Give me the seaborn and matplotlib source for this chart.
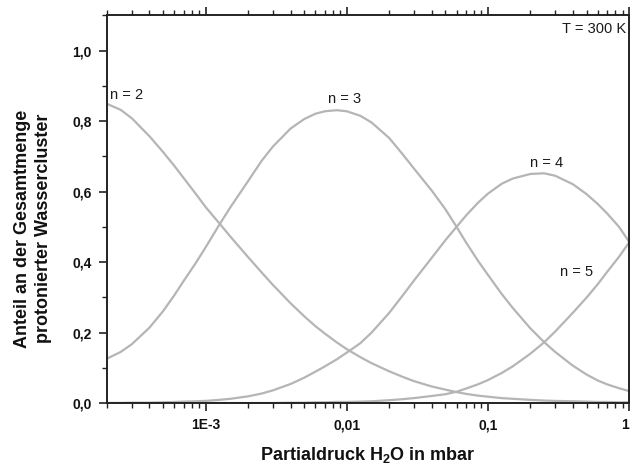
import pandas as pd
import matplotlib.pyplot as plt
import matplotlib.ticker as mticker
import seaborn as sns

# Werte (Druck in mbar, Anteil 0..1)
pressure = [2e-4, 2.5e-4, 3e-4, 4e-4, 5e-4, 6e-4, 7e-4, 8.5e-4,
            1e-3, 1.25e-3, 1.5e-3, 2e-3, 2.5e-3, 3e-3, 4e-3, 5e-3, 6e-3, 7e-3, 8.5e-3,
            1e-2, 1.25e-2, 1.5e-2, 2e-2, 2.5e-2, 3e-2, 4e-2, 5e-2, 6e-2, 7e-2, 8.5e-2,
            0.1, 0.125, 0.15, 0.2, 0.25, 0.3, 0.4, 0.5, 0.6, 0.7, 0.85, 1.0]
n2 = [0.849, 0.832, 0.808, 0.757, 0.712, 0.673, 0.638, 0.594,
      0.556, 0.510, 0.472, 0.414, 0.370, 0.335, 0.283, 0.246, 0.218, 0.197, 0.172,
      0.153, 0.130, 0.113, 0.090, 0.074, 0.062, 0.047, 0.038, 0.031, 0.026, 0.021,
      0.018, 0.014, 0.012, 0.009, 0.007, 0.006, 0.005, 0.004, 0.003, 0.003, 0.002, 0.002]
n3 = [0.126, 0.145, 0.167, 0.214, 0.261, 0.306, 0.347, 0.397,
      0.442, 0.506, 0.556, 0.630, 0.688, 0.728, 0.779, 0.806, 0.821, 0.828, 0.831,
      0.828, 0.815, 0.796, 0.752, 0.705, 0.665, 0.603, 0.550, 0.500, 0.456, 0.404,
      0.364, 0.310, 0.270, 0.212, 0.173, 0.145, 0.106, 0.081, 0.064, 0.053, 0.042, 0.034]
n4 = [0.000, 0.000, 0.001, 0.001, 0.002, 0.003, 0.004, 0.005,
      0.006, 0.009, 0.012, 0.019, 0.027, 0.036, 0.054, 0.072, 0.089, 0.104, 0.124,
      0.143, 0.170, 0.200, 0.256, 0.306, 0.348, 0.412, 0.462, 0.500, 0.532, 0.568,
      0.594, 0.622, 0.637, 0.650, 0.652, 0.645, 0.621, 0.593, 0.565, 0.538, 0.500, 0.458]
n5 = [0.000, 0.000, 0.000, 0.000, 0.000, 0.000, 0.000, 0.000,
      0.000, 0.000, 0.000, 0.000, 0.000, 0.000, 0.001, 0.001, 0.002, 0.002, 0.003,
      0.003, 0.004, 0.005, 0.008, 0.011, 0.014, 0.020, 0.025, 0.032, 0.041, 0.053,
      0.065, 0.085, 0.104, 0.140, 0.172, 0.203, 0.256, 0.299, 0.337, 0.372, 0.415, 0.455]

x_ticks = [1e-3, 1e-2, 1e-1, 1]
x_ticklabels = ["1E-3", "0,01", "0,1", "1"]
y_ticks = [0.0, 0.2, 0.4, 0.6, 0.8, 1.0]
y_ticklabels = ["0,0", "0,2", "0,4", "0,6", "0,8", "1,0"]

# Daten in Langformat für seaborn
frames = []
for name, vals in [("n = 2", n2), ("n = 3", n3), ("n = 4", n4), ("n = 5", n5)]:
    frames.append(pd.DataFrame({"p": pressure, "anteil": vals, "n": name}))
df = pd.concat(frames, ignore_index=True)

sns.set_theme(style="ticks")
plt.rcParams["font.family"] = ["Liberation Sans", "DejaVu Sans"]
plt.rcParams["mathtext.fontset"] = "custom"
plt.rcParams["mathtext.rm"] = "Liberation Sans"
plt.rcParams["mathtext.bf"] = "Liberation Sans:bold"

fig = plt.figure(figsize=(6.31, 4.67), dpi=100)
ax = fig.add_axes([0.1696, 0.137, 0.8272, 0.830])

grey = "#b5b5b5"
sns.lineplot(data=df, x="p", y="anteil", hue="n", palette=[grey] * 4,
             linewidth=1.6, legend=False, ax=ax, sort=False)

ax.set_xscale("log")
ax.set_xlim(2e-4, 1.0)
ax.set_ylim(0, 1.1)

ax.set_xticks(x_ticks, x_ticklabels)
ax.xaxis.set_minor_locator(mticker.LogLocator(base=10, subs=range(2, 10)))
ax.xaxis.set_minor_formatter(mticker.NullFormatter())
ax.set_yticks(y_ticks, y_ticklabels)
ax.yaxis.set_minor_locator(mticker.MultipleLocator(0.1))

for lab in ax.get_xticklabels() + ax.get_yticklabels():
    lab.set_fontweight("bold")
    lab.set_fontsize(10)
    lab.set_color("#111111")
ax.get_xticklabels()[-1].set_ha("right")

ax.tick_params(axis="both", which="major", length=6, width=1.2, color="#222222",
               direction="out", pad=5)
ax.tick_params(axis="both", which="minor", length=3.5, width=1.0, color="#222222",
               direction="out")
ax.tick_params(axis="x", which="both", top=True, labeltop=False)
ax.tick_params(axis="y", which="both", right=False)

for side in ["left", "bottom", "top", "right"]:
    ax.spines[side].set_linewidth(1.4)
    ax.spines[side].set_color("#222222")

ax.set_xlabel(r"Partialdruck H$_\mathbf{2}$O in mbar", fontsize=13, fontweight="bold",
              labelpad=9, color="#111111")
ax.set_ylabel("Anteil an der Gesamtmenge\nprotonierter Wassercluster", fontsize=13,
              fontweight="bold", linespacing=1.35, color="#111111")
ax.yaxis.set_label_coords(-0.105, 0.45)

txt = dict(fontsize=10.5, color="#1a1a1a")
ax.text(2.1e-4, 0.874, "n = 2", ha="left", va="center", **txt)
ax.text(9.7e-3, 0.864, "n = 3", ha="center", va="center", **txt)
ax.text(0.262, 0.682, "n = 4", ha="center", va="center", **txt)
ax.text(0.428, 0.371, "n = 5", ha="center", va="center", **txt)
ax.text(0.995, 0.965, "T = 300 K", ha="right", va="center", transform=ax.transAxes, **txt)

fig.savefig("out.png", dpi=100)
